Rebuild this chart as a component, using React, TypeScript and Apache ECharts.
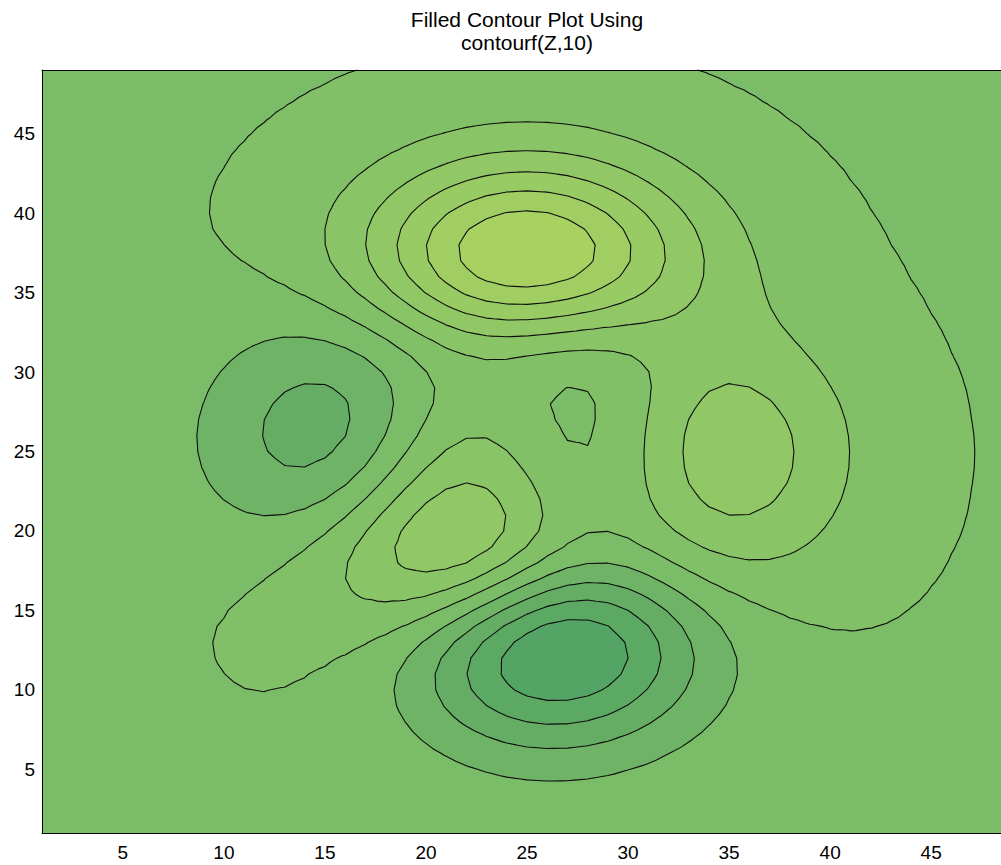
import { useEffect, useRef } from "react";
import * as echarts from "echarts";

// Surface sampling: peaks(49) over [-3, 3] x [-3, 3]
const SAMPLES = 49;
const SPAN_MIN = -3;
const SPAN_MAX = 3;
const LEVEL_COUNT = 10;

const xTickValues = [5, 10, 15, 20, 25, 30, 35, 40, 45];
const yTickValues = [5, 10, 15, 20, 25, 30, 35, 40, 45];

// One fill colour per band, lowest band first
const bandColors = [
  "#54a565",
  "#5ca964",
  "#65ad65",
  "#6fb466",
  "#7abc68",
  "#82c068",
  "#89c466",
  "#91c765",
  "#99cb64",
  "#a0ce63",
  "#a9d162",
];

const titleLines = ["Filled Contour Plot Using", "contourf(Z,10)"];
const FONT = '"Liberation Sans", Arial, Helvetica, sans-serif';

// MATLAB's peaks surface
function peaks(x: number, y: number): number {
  return (
    3 * (1 - x) ** 2 * Math.exp(-(x ** 2) - (y + 1) ** 2) -
    10 * (x / 5 - x ** 3 - y ** 5) * Math.exp(-(x ** 2) - y ** 2) -
    (1 / 3) * Math.exp(-((x + 1) ** 2) - y ** 2)
  );
}

type V = { x: number; y: number; z: number; id: string };

function buildGrid(): number[][] {
  const z: number[][] = [];
  for (let j = 0; j < SAMPLES; j++) {
    const row: number[] = [];
    const yv = SPAN_MIN + ((SPAN_MAX - SPAN_MIN) * j) / (SAMPLES - 1);
    for (let i = 0; i < SAMPLES; i++) {
      const xv = SPAN_MIN + ((SPAN_MAX - SPAN_MIN) * i) / (SAMPLES - 1);
      row.push(peaks(xv, yv));
    }
    z.push(row);
  }
  return z;
}

function corner(Z: number[][], i: number, j: number): V {
  return { x: i + 1, y: j + 1, z: Z[j][i], id: "p" + (j * SAMPLES + i) };
}

function cellTriangles(Z: number[][], i: number, j: number): V[][] {
  const a = corner(Z, i, j);
  const b = corner(Z, i + 1, j);
  const c = corner(Z, i + 1, j + 1);
  const d = corner(Z, i, j + 1);
  const m: V = {
    x: i + 1.5,
    y: j + 1.5,
    z: (a.z + b.z + c.z + d.z) / 4,
    id: "c" + (j * SAMPLES + i),
  };
  return [
    [a, b, m],
    [b, c, m],
    [c, d, m],
    [d, a, m],
  ];
}

function lerpPt(p: V, q: V, L: number): [number, number] {
  const t = (L - p.z) / (q.z - p.z);
  return [p.x + (q.x - p.x) * t, p.y + (q.y - p.y) * t];
}

function edgeKey(p: V, q: V): string {
  return p.id < q.id ? p.id + "_" + q.id : q.id + "_" + p.id;
}

// Region where the surface is at or above L, as polygons in data units
function superLevelPolys(Z: number[][], L: number): number[][] {
  const polys: number[][] = [];
  const n = SAMPLES - 1;
  for (let j = 0; j < n; j++) {
    let runStart = -1;
    for (let i = 0; i <= n; i++) {
      let full = false;
      let partial = false;
      if (i < n) {
        const zs = [Z[j][i], Z[j][i + 1], Z[j + 1][i + 1], Z[j + 1][i]];
        const inside = zs.filter((v) => v >= L).length;
        full = inside === 4;
        partial = inside > 0 && inside < 4;
      }
      if (full) {
        if (runStart < 0) runStart = i;
        continue;
      }
      if (runStart >= 0) {
        const x0 = runStart + 1;
        const x1 = i + 1;
        const y0 = j + 1;
        const y1 = j + 2;
        polys.push([x0, y0, x1, y0, x1, y1, x0, y1]);
        runStart = -1;
      }
      if (partial) {
        for (const tri of cellTriangles(Z, i, j)) {
          const out: number[] = [];
          for (let k = 0; k < 3; k++) {
            const p = tri[k];
            const q = tri[(k + 1) % 3];
            const pin = p.z >= L;
            const qin = q.z >= L;
            if (pin) out.push(p.x, p.y);
            if (pin !== qin) {
              const r = lerpPt(p, q, L);
              out.push(r[0], r[1]);
            }
          }
          if (out.length >= 6) polys.push(out);
        }
      }
    }
  }
  return polys;
}

// Iso-lines at level L, chained into polylines
function isoLines(Z: number[][], L: number): { pts: number[]; closed: boolean }[] {
  const n = SAMPLES - 1;
  const segs: { ka: string; kb: string }[] = [];
  const pointOf: Record<string, [number, number]> = {};
  const adj: Record<string, number[]> = {};
  for (let j = 0; j < n; j++) {
    for (let i = 0; i < n; i++) {
      for (const tri of cellTriangles(Z, i, j)) {
        const keys: string[] = [];
        for (let k = 0; k < 3; k++) {
          const p = tri[k];
          const q = tri[(k + 1) % 3];
          if (p.z >= L !== q.z >= L) {
            const key = edgeKey(p, q);
            if (!pointOf[key]) pointOf[key] = lerpPt(p, q, L);
            keys.push(key);
          }
        }
        if (keys.length === 2) {
          const idx = segs.length;
          segs.push({ ka: keys[0], kb: keys[1] });
          (adj[keys[0]] = adj[keys[0]] || []).push(idx);
          (adj[keys[1]] = adj[keys[1]] || []).push(idx);
        }
      }
    }
  }
  const used = new Array(segs.length).fill(false);
  const lines: { pts: number[]; closed: boolean }[] = [];
  for (let s = 0; s < segs.length; s++) {
    if (used[s]) continue;
    used[s] = true;
    const chain: string[] = [segs[s].ka, segs[s].kb];
    let cur = segs[s].kb;
    for (;;) {
      const next = (adj[cur] || []).find((t) => !used[t]);
      if (next === undefined) break;
      used[next] = true;
      cur = segs[next].ka === cur ? segs[next].kb : segs[next].ka;
      chain.push(cur);
    }
    cur = segs[s].ka;
    for (;;) {
      const next = (adj[cur] || []).find((t) => !used[t]);
      if (next === undefined) break;
      used[next] = true;
      cur = segs[next].ka === cur ? segs[next].kb : segs[next].ka;
      chain.unshift(cur);
    }
    const closed = chain.length > 2 && chain[0] === chain[chain.length - 1];
    const pts: number[] = [];
    for (const k of chain) pts.push(pointOf[k][0], pointOf[k][1]);
    lines.push({ pts, closed });
  }
  return lines;
}

export default function App() {
  const ref = useRef<HTMLDivElement>(null);

  useEffect(() => {
    if (!ref.current) return;
    const chart = echarts.init(ref.current, undefined, { renderer: "svg" });

    const Z = buildGrid();
    let zmin = Infinity;
    let zmax = -Infinity;
    for (const row of Z) for (const v of row) {
      if (v < zmin) zmin = v;
      if (v > zmax) zmax = v;
    }
    const levels: number[] = [];
    for (let k = 1; k <= LEVEL_COUNT; k++) {
      levels.push(zmin + ((zmax - zmin) * k) / (LEVEL_COUNT + 1));
    }

    const fillLayers: number[][][] = [
      [[1, 1, SAMPLES, 1, SAMPLES, SAMPLES, 1, SAMPLES]],
      ...levels.map((L) => superLevelPolys(Z, L)),
    ];
    const lineLayers = levels.map((L) => isoLines(Z, L));

    const fmt = (v: number) => Math.round(v * 100) / 100;

    const fillItem = (params: any, api: any) => {
      const polys = fillLayers[params.dataIndex];
      let d = "";
      for (const poly of polys) {
        for (let k = 0; k < poly.length; k += 2) {
          const p = api.coord([poly[k], poly[k + 1]]);
          d += (k === 0 ? "M" : "L") + fmt(p[0]) + " " + fmt(p[1]);
        }
        d += "Z";
      }
      return {
        type: "path",
        shape: { pathData: d },
        style: { fill: bandColors[params.dataIndex], stroke: "none" },
        silent: true,
      };
    };

    const lineItem = (params: any, api: any) => {
      const lines = lineLayers[params.dataIndex];
      let d = "";
      for (const ln of lines) {
        for (let k = 0; k < ln.pts.length; k += 2) {
          const p = api.coord([ln.pts[k], ln.pts[k + 1]]);
          d += (k === 0 ? "M" : "L") + fmt(p[0]) + " " + fmt(p[1]);
        }
        if (ln.closed) d += "Z";
      }
      return {
        type: "path",
        shape: { pathData: d },
        style: { fill: "none", stroke: "#0d0d0d", lineWidth: 1.1, lineJoin: "round" },
        silent: true,
      };
    };

    const axisLine = { show: true, onZero: false, lineStyle: { color: "#000", width: 1 } };
    const labelStyle = { color: "#000", fontSize: 19, fontFamily: FONT };

    chart.setOption({
      animation: false,
      backgroundColor: "#fff",
      graphic: titleLines.map((t, k) => ({
        type: "text",
        x: 527,
        y: 19.5 + k * 23,
        z: 20,
        style: {
          text: t,
          fill: "#000",
          fontSize: 21,
          fontFamily: FONT,
          align: "center",
          verticalAlign: "middle",
        },
      })),
      grid: { left: 42, right: 1, top: 70, bottom: 32, containLabel: false },
      xAxis: [
        {
          type: "value",
          min: 1,
          max: SAMPLES,
          position: "bottom",
          z: 10,
          axisLine,
          axisTick: { show: false },
          splitLine: { show: false },
          axisLabel: { ...labelStyle, margin: 10, customValues: xTickValues },
        },
        {
          type: "value",
          min: 1,
          max: SAMPLES,
          position: "top",
          z: 10,
          axisLine,
          axisTick: { show: false },
          splitLine: { show: false },
          axisLabel: { show: false },
        },
      ],
      yAxis: [
        {
          type: "value",
          min: 1,
          max: SAMPLES,
          position: "left",
          z: 10,
          axisLine,
          axisTick: { show: false },
          splitLine: { show: false },
          axisLabel: { ...labelStyle, margin: 7, customValues: yTickValues },
        },
        {
          type: "value",
          min: 1,
          max: SAMPLES,
          position: "right",
          z: 10,
          axisLine,
          axisTick: { show: false },
          splitLine: { show: false },
          axisLabel: { show: false },
        },
      ],
      series: [
        {
          type: "custom",
          name: "bands",
          coordinateSystem: "cartesian2d",
          xAxisIndex: 0,
          yAxisIndex: 0,
          z: 1,
          silent: true,
          renderItem: fillItem,
          data: fillLayers.map(() => [25, 25]),
        },
        {
          type: "custom",
          name: "isolines",
          coordinateSystem: "cartesian2d",
          xAxisIndex: 0,
          yAxisIndex: 0,
          z: 2,
          silent: true,
          renderItem: lineItem,
          data: lineLayers.map(() => [25, 25]),
        },
      ],
    });

    return () => chart.dispose();
  }, []);

  return (
    <div
      style={{
        position: "absolute",
        left: 0,
        top: 0,
        width: 1001,
        height: 865,
        overflow: "hidden",
        background: "#fff",
      }}
    >
      <div ref={ref} style={{ width: 1013, height: 865 }} />
    </div>
  );
}
